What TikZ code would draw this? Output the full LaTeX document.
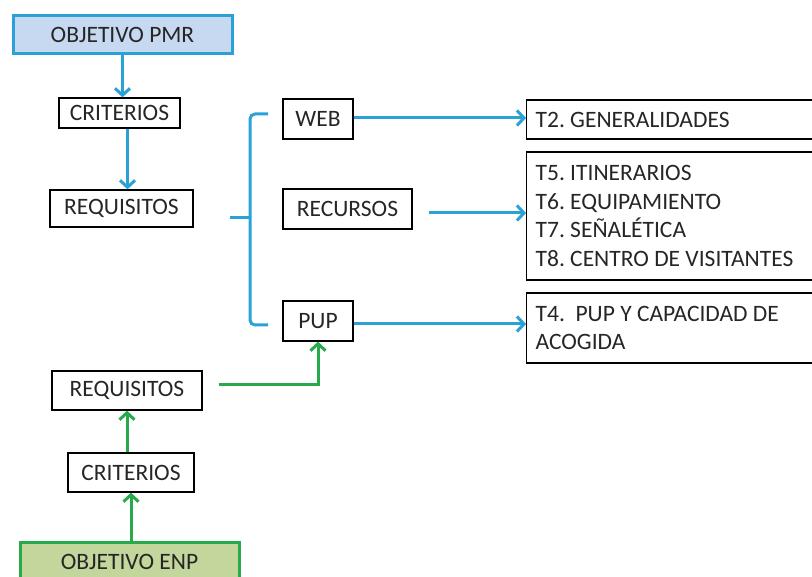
\documentclass[tikz,border=0pt]{standalone}
\usepackage{fontspec}
\setmainfont{Carlito}
\usetikzlibrary{arrows.meta}
\definecolor{blu}{HTML}{2AA2D6}
\definecolor{blufill}{HTML}{C6D9F0}
\definecolor{grn}{HTML}{28A94B}
\definecolor{grnfill}{HTML}{C3D69B}
\definecolor{txt}{HTML}{262626}
\begin{document}
\frenchspacing
\begin{tikzpicture}[x=1pt,y=-1pt,
  box/.style={draw=black, line width=1.3pt, inner sep=0pt, text=txt,
    font=\fontsize{23.5}{28.7}\selectfont\frenchspacing},
  obj/.style={box, line width=3pt},
  tbox/.style={box, anchor=west, align=flush left, inner xsep=9pt, text width=286pt},
  bluarrow/.style={draw=blu, line width=3pt, -{Straight Barb[length=7pt,width=15pt]}},
  grnarrow/.style={draw=grn, line width=3pt, -{Straight Barb[length=7pt,width=15pt]}},
  bracket/.style={draw=blu, line width=3pt, rounded corners=5pt}
]
\useasboundingbox (0,0) rectangle (812,577);
\clip (0,0) rectangle (812,577);
\fill[white] (0,0) rectangle (812,577);

% left column (PMR)
\node[obj, draw=blu, fill=blufill, minimum width=219, minimum height=38] (pmr) at (122.5,35) {OBJETIVO PMR};
\node[box, minimum width=121, minimum height=30] (crit1) at (119.5,113) {CRITERIOS};
\node[box, minimum width=143, minimum height=37] (req1) at (121.5,208.5) {REQUISITOS};

% middle column
\node[box, minimum width=70, minimum height=40] (web) at (318,119) {WEB};
\node[box, minimum width=129, minimum height=40] (rec) at (347.5,209) {RECURSOS};
\node[box, minimum width=70, minimum height=40] (pup) at (318,321) {PUP};

% right column
\node[tbox, minimum height=39] (t2) at (526,119.5) {T2. GENERALIDADES};
\node[tbox, minimum height=128] (t5) at (526,216) {T5. ITINERARIOS\\T6. EQUIPAMIENTO\\T7. SEÑALÉTICA\\T8. CENTRO DE VISITANTES};
\node[tbox, minimum height=70] (t4) at (526,328) {T4.\ \ PUP Y CAPACIDAD DE\\ACOGIDA};

% left column (ENP)
\node[box, minimum width=150, minimum height=39] (req2) at (127,390.5) {REQUISITOS};
\node[box, minimum width=126, minimum height=39] (crit2) at (131,472.5) {CRITERIOS};
\node[obj, draw=grn, fill=grnfill, minimum width=219, minimum height=40] (enp) at (129.5,562) {OBJETIVO ENP};

% blue arrows
\draw[bluarrow] (pmr.south) -- (pmr.south |- crit1.north);
\draw[bluarrow] ([xshift=8pt]crit1.south) -- ([xshift=8pt]crit1.south |- req1.north);

% bracket
\coordinate (brtop) at (268,114);
\coordinate (brbot) at (268,325);
\coordinate (brmid) at (230,218);
\coordinate (brspine) at (250,218);
\draw[bracket] (brtop) -- (250,114) -- (250,325) -- (brbot);
\draw[draw=blu, line width=3pt] (brmid) -- (brspine);

\draw[bluarrow] ([yshift=1pt]web.east) -- ([yshift=1pt]web.east -| t2.west);
\draw[bluarrow] ([xshift=16pt,yshift=-4pt]rec.east) -- ([yshift=-4pt]rec.east -| t5.west);
\draw[bluarrow] ([yshift=-3pt]pup.east) -- ([yshift=-3pt]pup.east -| t4.west);

% green arrows
\draw[grnarrow] ([xshift=16pt,yshift=6pt]req2.east) -| (pup.south);
\draw[grnarrow] (req2.south |- crit2.north) -- (req2.south);
\draw[grnarrow] (crit2.south |- enp.north) -- (crit2.south);
\end{tikzpicture}
\end{document}
